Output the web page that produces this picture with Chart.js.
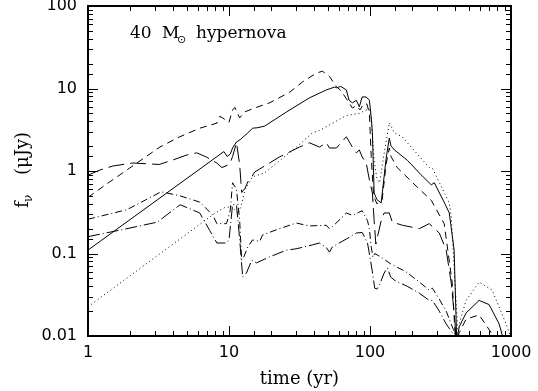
<!DOCTYPE html>
<html>
<head>
<meta charset="utf-8">
<script src="https://cdn.jsdelivr.net/npm/chart.js@4/dist/chart.umd.min.js"></script>
<style>
html,body{margin:0;padding:0;background:#fff;}
#wrap{width:538px;height:391px;position:relative;}
</style>
</head>
<body>
<div id="wrap"><canvas id="c" width="538" height="391"></canvas></div>
<script>
// ---- data (time in yr, flux in microJy) ----
const solidT = [1, 9.2, 9.7, 10.2, 10.6, 11.3, 12, 13.6, 14.7, 16, 17.9, 25.6, 37.2, 49, 56, 58, 62, 68, 71, 75, 80, 84, 88, 94, 99, 102, 104, 107, 112, 120, 130, 137, 141, 149, 184, 230, 272, 286, 340, 365, 395, 412, 430, 480, 594, 700, 824, 870, 900];
const solidF = [0.11, 1.72, 1.5, 1.6, 1.9, 2.25, 2.4, 2.9, 3.3, 3.35, 3.5, 5.2, 7.7, 9.6, 10.4, 10.2, 10.6, 9.6, 7.2, 6.7, 7.2, 6.0, 7.9, 7.9, 7.2, 4.5, 2.9, 0.54, 0.45, 0.41, 1.4, 2.5, 2.0, 1.8, 1.35, 0.9, 0.68, 0.72, 0.4, 0.31, 0.11, 0.009, 0.013, 0.019, 0.027, 0.024, 0.014, 0.01, 0.008];

const shortT = [1, 1.43, 2.22, 3.23, 4.48, 6.2, 8.2, 8.6, 9.0, 10, 10.6, 11, 11.9, 12.9, 15.2, 19.4, 26.9, 33.2, 41.8, 46, 51.6, 57.8, 62, 68, 75, 80, 85, 90, 95, 99, 102, 106, 112, 122, 130, 137, 141, 156, 216, 272, 336, 383, 405, 430, 480, 594, 723, 780];
const shortF = [0.48, 0.74, 1.25, 1.95, 2.6, 3.3, 3.8, 4.6, 4.4, 3.9, 5.5, 5.9, 4.4, 5.2, 5.8, 6.7, 9.0, 12, 15.4, 16.2, 14, 10.5, 9.5, 7.5, 5.8, 6.2, 5.5, 6.5, 6.5, 5, 1.5, 0.5, 0.4, 0.45, 1.2, 1.9, 1.5, 1.1, 0.64, 0.44, 0.23, 0.044, 0.008, 0.011, 0.016, 0.018, 0.011, 0.008];

const longT = [1, 1.22, 1.5, 2.08, 3.2, 4.0, 5.0, 5.9, 6.9, 8.2, 8.9, 9.8, 10.2, 10.6, 11.3, 11.9, 12.3, 13, 13.6, 14.5, 15.2, 17.9, 22.8, 31.6, 37.2, 43.8, 49, 51.6, 57.8, 68, 75, 80, 84, 88, 94, 99, 104, 107, 110, 114, 120, 126, 137, 144, 170, 224, 263, 310, 347, 377, 400, 410];
const longF = [0.89, 1.03, 1.15, 1.25, 1.2, 1.36, 1.56, 1.66, 1.48, 1.25, 1.1, 1.18, 1.25, 1.5, 2.2, 1.2, 0.55, 0.62, 0.74, 0.85, 0.97, 1.15, 1.48, 1.95, 2.2, 1.95, 2.2, 1.9, 1.9, 2.6, 1.95, 1.66, 1.8, 1.48, 1.25, 0.78, 0.54, 0.25, 0.13, 0.17, 0.25, 0.31, 0.31, 0.24, 0.22, 0.2, 0.23, 0.177, 0.11, 0.044, 0.015, 0.008];

const dotT = [1, 8, 9.3, 10.5, 11.0, 11.6, 12.3, 13, 13.6, 14.7, 17.9, 30.1, 39, 43.8, 68, 84, 94, 99, 102, 107, 112, 117, 125, 137, 149, 169, 263, 277, 365, 377, 415, 422, 429, 480, 594, 735, 923, 1000];
const dotF = [0.0226, 0.31, 0.36, 0.37, 0.34, 0.3, 0.4, 0.6, 0.68, 0.85, 0.95, 1.95, 2.9, 3.1, 4.7, 5.0, 5.5, 5.6, 4.4, 1.36, 0.8, 0.72, 1.5, 3.85, 2.9, 2.6, 1.1, 1.08, 0.41, 0.28, 0.0156, 0.009, 0.014, 0.027, 0.045, 0.036, 0.014, 0.0095];

const ddUpT = [1, 1.89, 3.3, 4.5, 6.2, 7.7, 8.2, 9.6, 10.2, 10.6, 11.3, 11.9, 12.3, 12.7, 13.6, 14.7, 16.5, 17.3, 22.8, 30, 37, 49, 51.6, 54, 68, 75, 88, 96, 99, 102, 105, 108, 120, 140, 180, 224, 263, 277, 310, 347, 390, 410];
const ddUpF = [0.26, 0.34, 0.56, 0.5, 0.42, 0.29, 0.23, 0.23, 0.33, 0.72, 0.6, 0.25, 0.083, 0.09, 0.12, 0.146, 0.14, 0.168, 0.2, 0.234, 0.216, 0.22, 0.2, 0.21, 0.31, 0.29, 0.33, 0.25, 0.2, 0.12, 0.09, 0.1, 0.09, 0.075, 0.06, 0.045, 0.036, 0.038, 0.028, 0.02, 0.012, 0.009];

const ddLoT = [1, 1.89, 3.1, 4.5, 6.2, 7.3, 8.2, 9.6, 10.0, 10.6, 11.3, 11.9, 12.5, 13.3, 14.5, 15.7, 19.4, 25.6, 30, 39, 43.8, 49, 51.6, 54, 68, 80, 88, 96, 100, 104, 108, 112, 117, 126, 133, 140, 150, 184, 224, 263, 277, 310, 347, 383, 400];
const ddLoF = [0.16, 0.2, 0.24, 0.39, 0.31, 0.19, 0.134, 0.134, 0.146, 0.39, 0.39, 0.15, 0.052, 0.058, 0.083, 0.077, 0.091, 0.11, 0.114, 0.127, 0.134, 0.118, 0.104, 0.12, 0.15, 0.177, 0.18, 0.134, 0.09, 0.06, 0.038, 0.037, 0.042, 0.058, 0.067, 0.052, 0.047, 0.04, 0.033, 0.027, 0.027, 0.02, 0.014, 0.011, 0.008];

const xTickLabels = ['1', '10', '100', '1000'];        // 10^0 .. 10^3
const yTickLabels = ['0.01', '0.1', '1', '10', '100'];  // 10^-2 .. 10^2

function pts(t, f) { return t.map((v, i) => ({ x: v, y: f[i] })); }
function decadeIndex(v, lo) {
  const l = Math.log10(v), r = Math.round(l);
  if (Math.abs(l - r) > 1e-6) return -1;
  return r - lo;
}

const series = [
  { t: solidT, f: solidF, dash: [] },
  { t: shortT, f: shortF, dash: [7, 5] },
  { t: dotT, f: dotF, dash: [1, 3] },
  { t: longT, f: longF, dash: [16, 6] },
  { t: ddUpT, f: ddUpF, dash: [7, 3, 1, 3] },
  { t: ddLoT, f: ddLoF, dash: [12, 3, 1, 3] }
];

const frame = {
  id: 'frame',
  afterDraw(chart) {
    const ctx = chart.ctx, a = chart.chartArea;
    const xs = chart.scales.x, ys = chart.scales.y;
    ctx.save();
    ctx.strokeStyle = '#000';
    // ticks
    ctx.lineWidth = 1;
    xs.ticks.forEach(t => {
      const p = Math.round(xs.getPixelForValue(t.value)) + 0.5;
      const len = decadeIndex(t.value, 0) >= 0 ? 10 : 5;
      ctx.beginPath();
      ctx.moveTo(p, a.bottom); ctx.lineTo(p, a.bottom - len);
      ctx.moveTo(p, a.top); ctx.lineTo(p, a.top + len);
      ctx.stroke();
    });
    ys.ticks.forEach(t => {
      const p = Math.round(ys.getPixelForValue(t.value)) + 0.5;
      const len = decadeIndex(t.value, -2) >= 0 ? 10 : 5;
      ctx.beginPath();
      ctx.moveTo(a.left, p); ctx.lineTo(a.left + len, p);
      ctx.moveTo(a.right, p); ctx.lineTo(a.right - len, p);
      ctx.stroke();
    });
    // frame
    ctx.lineWidth = 2;
    ctx.strokeRect(a.left, a.top, a.right - a.left, a.bottom - a.top);
    // annotation
    ctx.fillStyle = '#000';
    ctx.textBaseline = 'alphabetic';
    ctx.textAlign = 'left';
    ctx.font = '17px "DejaVu Serif"';
    ctx.fillText('40', 130, 38);
    ctx.fillText('M', 162, 38);
    ctx.font = '11px "DejaVu Sans"';
    ctx.fillText('\u2299', 177, 43);
    ctx.font = '17px "DejaVu Serif"';
    ctx.fillText('hypernova', 196, 38);
    // x title
    ctx.textAlign = 'center';
    ctx.font = '18px "DejaVu Serif"';
    ctx.fillText('time (yr)', (a.left + a.right) / 2, 384);
    // y title
    ctx.translate(28, 208);
    ctx.rotate(-Math.PI / 2);
    ctx.textAlign = 'left';
    ctx.font = '18px "DejaVu Serif"';
    ctx.fillText('f', 0, 0);
    ctx.font = '12px "DejaVu Serif"';
    ctx.fillText('\u03bd', 6, 4);
    ctx.font = '18px "DejaVu Serif"';
    ctx.fillText('(\u03bcJy)', 33, 0);
    ctx.restore();
  }
};

new Chart(document.getElementById('c'), {
  type: 'line',
  data: {
    datasets: series.map(s => ({
      data: pts(s.t, s.f),
      borderColor: '#000',
      borderWidth: 1,
      borderDash: s.dash,
      pointRadius: 0,
      tension: 0,
      fill: false
    }))
  },
  options: {
    responsive: false,
    animation: false,
    devicePixelRatio: 1,
    parsing: true,
    layout: { padding: { top: 6, right: 27, left: 0, bottom: 0 } },
    plugins: { legend: { display: false }, tooltip: { enabled: false } },
    scales: {
      x: {
        type: 'logarithmic', min: 1, max: 1000,
        grid: { display: false, drawTicks: false }, border: { display: false },
        afterFit(s) { s.height = 55; s.paddingLeft = 0; s.paddingRight = 0; },
        ticks: {
          autoSkip: false, maxRotation: 0, minRotation: 0, padding: 7, color: '#000',
          font: { family: 'DejaVu Sans', size: 16 },
          callback(v) { const i = decadeIndex(v, 0); return i >= 0 ? xTickLabels[i] : ''; }
        }
      },
      y: {
        type: 'logarithmic', min: 0.01, max: 100,
        grid: { display: false, drawTicks: false }, border: { display: false },
        afterFit(s) { s.width = 88; s.paddingTop = 0; s.paddingBottom = 0; },
        ticks: {
          autoSkip: false, padding: 11, color: '#000',
          font: { family: 'DejaVu Sans', size: 16 },
          callback(v) { const i = decadeIndex(v, -2); return i >= 0 ? yTickLabels[i] : ''; }
        }
      }
    }
  },
  plugins: [frame]
});
</script>
</body>
</html>
